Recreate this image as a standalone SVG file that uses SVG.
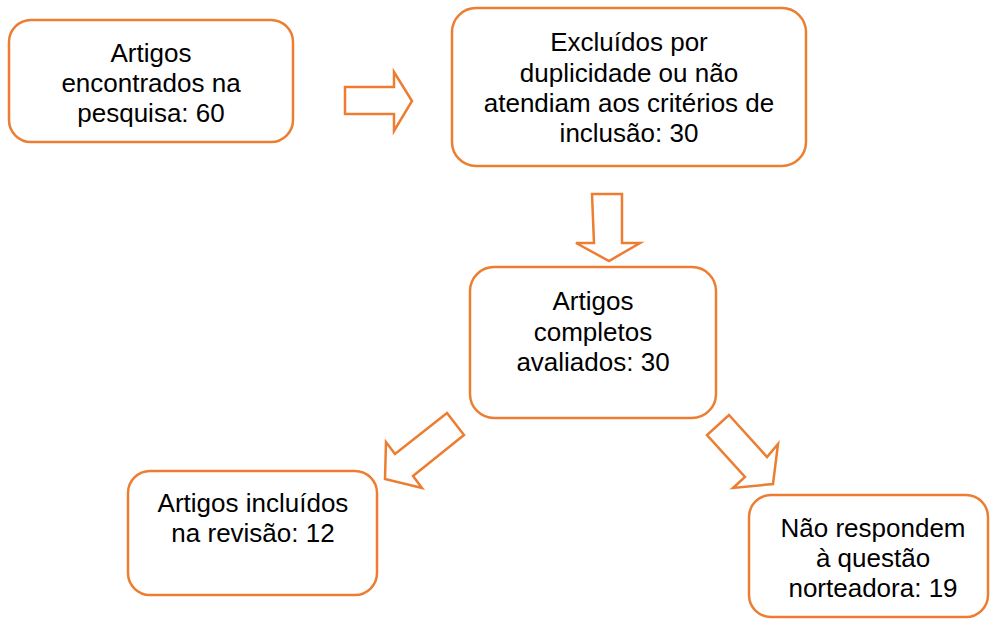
<svg xmlns="http://www.w3.org/2000/svg" width="990" height="619" viewBox="0 0 990 619">
<style>
.box{fill:#ffffff;stroke:#ED7D31;stroke-width:2.5}
.arr{fill:#ffffff;stroke:#ED7D31;stroke-width:2.5;stroke-linejoin:miter}
text{font-family:"Liberation Sans",Arial,sans-serif;font-size:26px;fill:#000000;text-anchor:middle}
</style>
<rect width="990" height="619" fill="#ffffff"/>
<g id="connectors">
<polygon class="arr" points="345,87 394,87 394,72 412,101 394,131 394,114 345,114"/>
<polygon class="arr" points="592,194 622,194 622,243 640,243 609,261 576,243 594,243"/>
<polygon class="arr" points="447,413 464,435 413,476 422,488 385,479 386,442 395,454"/>
<polygon class="arr" points="729,415 767,457 778,444 773,484 733,488 745,477 707,435"/>
</g>
<g id="node1">
<rect class="box" x="9" y="20" width="284" height="122" rx="22"/>
<text x="151" y="62">Artigos</text>
<text x="151" y="92">encontrados na</text>
<text x="151" y="122">pesquisa: 60</text>
</g>
<g id="node2">
<rect class="box" x="452" y="8" width="354" height="158" rx="24"/>
<text x="629" y="51">Excluídos por</text>
<text x="629" y="82">duplicidade ou não</text>
<text x="629" y="112">atendiam aos critérios de</text>
<text x="629" y="142">inclusão: 30</text>
</g>
<g id="node3">
<rect class="box" x="470" y="267" width="246" height="151" rx="24"/>
<text x="593" y="310">Artigos</text>
<text x="593" y="341">completos</text>
<text x="593" y="371">avaliados: 30</text>
</g>
<g id="node4">
<rect class="box" x="128" y="471" width="249" height="124" rx="22"/>
<text x="253" y="512">Artigos incluídos</text>
<text x="253" y="542">na revisão: 12</text>
</g>
<g id="node5">
<rect class="box" x="749" y="495" width="239" height="122" rx="22"/>
<text x="873" y="537">Não respondem</text>
<text x="873" y="567">à questão</text>
<text x="873" y="597">norteadora: 19</text>
</g>
</svg>
